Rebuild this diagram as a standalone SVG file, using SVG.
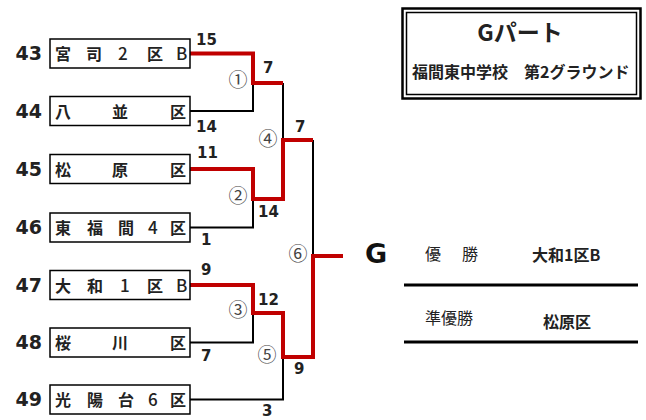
<svg xmlns="http://www.w3.org/2000/svg" width="646" height="420" viewBox="0 0 646 420">
<style>
.box{fill:#fff;stroke:#000;stroke-width:1.5}
.seed{font-family:"DejaVu Sans",Verdana,sans-serif;font-weight:bold;font-size:19px;fill:#222;text-anchor:end}
.name{font-family:"Noto Sans CJK JP","DejaVu Sans",sans-serif;font-weight:bold;font-size:16px;fill:#222}
.lat{font-weight:500;font-size:17px}
.sc{font-family:"DejaVu Sans",Verdana,sans-serif;font-weight:bold;font-size:15px;fill:#222}
.cn{font-family:"Noto Sans CJK JP",sans-serif;font-size:19px;fill:#444;text-anchor:middle}
.blk{fill:none;stroke:#000;stroke-width:2}
.red{fill:none;stroke:#c00000;stroke-width:4}
.jp{font-family:"Noto Sans CJK JP",sans-serif;fill:#222}
</style>
<rect width="646" height="420" fill="#fff"/>
<g id="connectors">
<path class="blk" d="M190 111H253V83"/>
<path class="blk" d="M283 83V140"/>
<path class="blk" d="M190 227.5H253V199"/>
<path class="blk" d="M313 140V256"/>
<path class="blk" d="M190 342.5H253V313"/>
<path class="blk" d="M190 399.5H283V357"/>
<path class="red" d="M190 53.5H253V83H283"/>
<path class="red" d="M190 169H253V199H283V140H313"/>
<path class="red" d="M190 285H253V313H283V357H313V256H343"/>
</g>
<g id="t43"><text class="seed" x="42" y="60">43</text><rect class="box" x="50" y="39" width="140" height="29"/><text class="name" x="55 86" y="60">宮司</text><text class="name lat" x="118" y="60">2</text><text class="name" x="147" y="60">区</text><text class="name lat" x="176" y="60">B</text></g>
<g id="t44"><text class="seed" x="42" y="117.5">44</text><rect class="box" x="50" y="96.5" width="140" height="29"/><text class="name" x="55 112 170" y="117.5">八並区</text></g>
<g id="t45"><text class="seed" x="42" y="175.5">45</text><rect class="box" x="50" y="154.5" width="140" height="29"/><text class="name" x="55 112 170" y="175.5">松原区</text></g>
<g id="t46"><text class="seed" x="42" y="234">46</text><rect class="box" x="50" y="213" width="140" height="29"/><text class="name" x="55 87 118" y="234">東福間</text><text class="name lat" x="148" y="234">4</text><text class="name" x="170" y="234">区</text></g>
<g id="t47"><text class="seed" x="42" y="291.5">47</text><rect class="box" x="50" y="270.5" width="140" height="29"/><text class="name" x="55 87" y="291.5">大和</text><text class="name lat" x="120" y="291.5">1</text><text class="name" x="147" y="291.5">区</text><text class="name lat" x="176" y="291.5">B</text></g>
<g id="t48"><text class="seed" x="42" y="349">48</text><rect class="box" x="50" y="328" width="140" height="29"/><text class="name" x="55 112 170" y="349">桜川区</text></g>
<g id="t49"><text class="seed" x="42" y="406">49</text><rect class="box" x="50" y="385" width="140" height="29"/><text class="name" x="55 87 118" y="406">光陽台</text><text class="name lat" x="148" y="406">6</text><text class="name" x="170" y="406">区</text></g>
<g id="scores">
<text class="sc" x="196" y="45">15</text>
<text class="sc" x="263" y="73">7</text>
<text class="sc" x="196" y="132">14</text>
<text class="sc" x="295" y="132">7</text>
<text class="sc" x="197" y="158">11</text>
<text class="sc" x="258" y="217">14</text>
<text class="sc" x="201" y="245">1</text>
<text class="sc" x="201" y="275">9</text>
<text class="sc" x="258" y="305">12</text>
<text class="sc" x="201" y="361">7</text>
<text class="sc" x="294" y="374">9</text>
<text class="sc" x="262" y="416">3</text>
</g>
<g id="matches">
<text class="cn" x="238" y="87">①</text>
<text class="cn" x="238" y="203">②</text>
<text class="cn" x="238" y="317">③</text>
<text class="cn" x="268" y="146">④</text>
<text class="cn" x="267" y="362">⑤</text>
<text class="cn" x="298" y="261">⑥</text>
</g>
<g id="title">
<rect x="402.5" y="8.5" width="238" height="90" fill="none" stroke="#000" stroke-width="2.5"/>
<rect x="406.5" y="12.5" width="230" height="82" fill="none" stroke="#000" stroke-width="1.5"/>
<text class="jp" x="520" y="41" font-size="23" font-weight="bold" text-anchor="middle">Gパート</text>
<text class="jp" x="412" y="78" font-size="16" font-weight="bold">福間東中学校</text>
<text class="jp" x="524" y="78" font-size="16" font-weight="bold">第2グラウンド</text>
</g>
<g id="result">
<text x="365" y="263" font-family="DejaVu Sans,sans-serif" font-weight="bold" font-size="27" fill="#111">G</text>
<text class="jp" x="425 462" y="260" font-size="16" fill="#333">優勝</text>
<text class="jp" x="532" y="261" font-size="16" font-weight="bold">大和1区B</text>
<line x1="404" y1="285" x2="638" y2="285" stroke="#000" stroke-width="3"/>
<text class="jp" x="425" y="324" font-size="16" fill="#333">準優勝</text>
<text class="jp" x="543" y="328" font-size="16" font-weight="bold">松原区</text>
<line x1="404" y1="342" x2="638" y2="342" stroke="#000" stroke-width="3"/>
</g>
</svg>
